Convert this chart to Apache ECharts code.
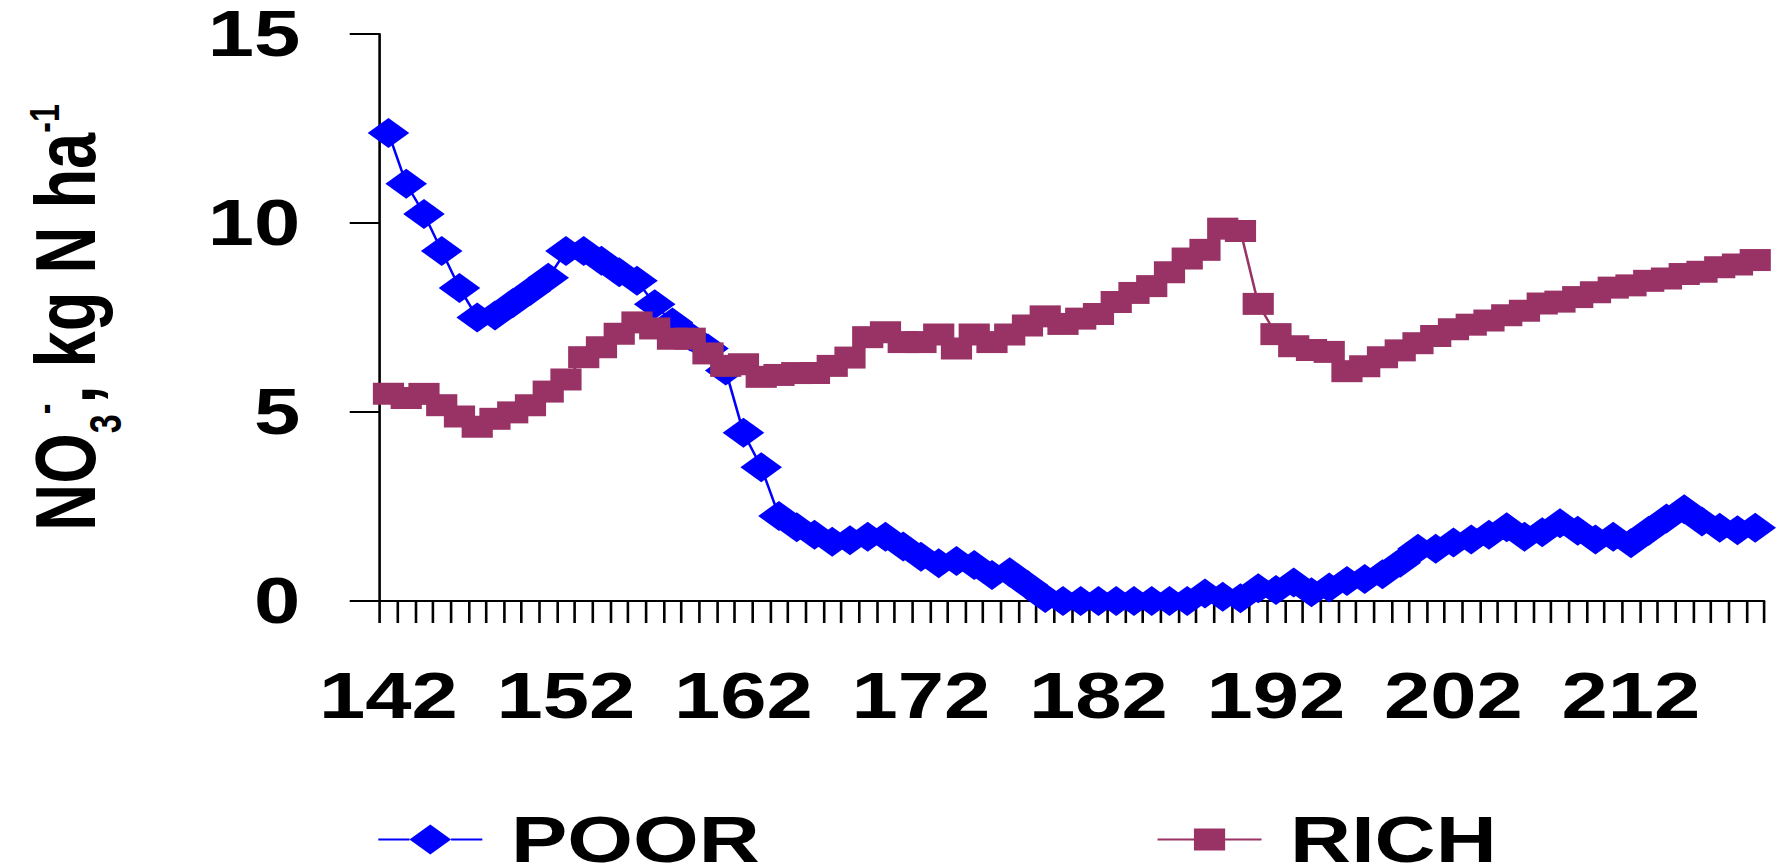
<!DOCTYPE html>
<html>
<head>
<meta charset="utf-8">
<script src="https://cdn.jsdelivr.net/npm/echarts@6/dist/echarts.min.js"></script>
<style>
  html, body { margin: 0; padding: 0; background: #ffffff; overflow: hidden; }
  /* The figure is laid out narrower and widened horizontally, giving the wide lettering and markers of the original figure */
  #chart { width: 1376px; height: 864px; transform: scaleX(1.3); transform-origin: 0 0; }
</style>
</head>
<body>
<div id="chart"></div>
<script>
// Day of year
const days = [
  '142','143','144','145','146','147','148','149','150','151',
  '152','153','154','155','156','157','158','159','160','161',
  '162','163','164','165','166','167','168','169','170','171',
  '172','173','174','175','176','177','178','179','180','181',
  '182','183','184','185','186','187','188','189','190','191',
  '192','193','194','195','196','197','198','199','200','201',
  '202','203','204','205','206','207','208','209','210','211',
  '212','213','214','215','216','217','218','219'
];

// Soil nitrate, kg N/ha
const poor = [
  12.38, 11.04, 10.24, 9.26, 8.28, 7.50, 7.55, 7.88, 8.21, 8.55,
  9.26, 9.26, 9.00, 8.70, 8.47, 7.85, 7.37, 7.00, 6.68, 6.10,
  4.45, 3.54, 2.25, 1.95, 1.75, 1.57, 1.61, 1.70, 1.70, 1.44,
  1.17, 1.00, 1.06, 0.95, 0.69, 0.76, 0.42, 0.08, 0.00, 0.00,
  0.00, 0.00, 0.00, 0.00, 0.00, 0.00, 0.20, 0.11, 0.07, 0.34,
  0.29, 0.49, 0.23, 0.36, 0.53, 0.58, 0.71, 1.01, 1.38, 1.38,
  1.55, 1.63, 1.75, 1.95, 1.70, 1.82, 2.06, 1.86, 1.63, 1.70,
  1.53, 1.86, 2.18, 2.43, 2.10, 1.94, 1.87, 1.94
];

const rich = [
  5.48, 5.37, 5.48, 5.18, 4.88, 4.61, 4.82, 4.99, 5.18, 5.54,
  5.86, 6.45, 6.71, 7.07, 7.37, 7.21, 6.94, 6.94, 6.55, 6.22,
  6.26, 5.93, 5.98, 6.03, 6.03, 6.22, 6.44, 6.98, 7.11, 6.85,
  6.85, 7.05, 6.68, 7.05, 6.85, 7.05, 7.29, 7.53, 7.33, 7.47,
  7.59, 7.91, 8.15, 8.33, 8.70, 9.06, 9.29, 9.85, 9.79, 7.86,
  7.06, 6.74, 6.64, 6.59, 6.08, 6.21, 6.45, 6.63, 6.82, 7.01,
  7.19, 7.31, 7.42, 7.56, 7.68, 7.87, 7.92, 8.04, 8.17, 8.29,
  8.35, 8.47, 8.53, 8.65, 8.71, 8.83, 8.90, 9.02
];

const seriesNames = ['POOR', 'RICH'];
const FONT = '"Liberation Sans", Arial, sans-serif';
const BLUE = '#0000ff';
const PLUM = '#993366';

const chart = echarts.init(document.getElementById('chart'), null, { renderer: 'svg' });

chart.setOption({
  animation: false,
  backgroundColor: '#ffffff',
  grid: { left: 292, right: 19, top: 34, bottom: 263, outerBoundsMode: 'none' },
  legend: {
    left: 291,
    top: 807,
    padding: 0,
    itemWidth: 80,
    itemHeight: 30,
    itemGap: 306,
    itemStyle: { borderWidth: 0 },
    textStyle: {
      fontFamily: FONT, fontWeight: 'bold', fontSize: 65,
      color: '#000', padding: [0, 0, 0, 17]
    },
    data: [
      { name: seriesNames[0], icon: 'path://M0,14L24,14L24,16L0,16Z M24,15L40,0L56,15L40,30Z M56,14L80,14L80,16L56,16Z' },
      { name: seriesNames[1], icon: 'path://M0,10L28,10L28,12L0,12Z M28,0L52,0L52,22L28,22Z M52,10L80,10L80,12L52,12Z' }
    ]
  },
  xAxis: {
    type: 'category',
    data: days,
    boundaryGap: true,
    axisLine: { show: true, onZero: true, lineStyle: { color: '#000', width: 2 } },
    axisTick: { show: true, interval: 0, inside: false, length: 22, lineStyle: { color: '#000', width: 2 } },
    axisLabel: {
      interval: 9, margin: 63,
      fontFamily: FONT, fontWeight: 'bold', fontSize: 64, color: '#000'
    },
    splitLine: { show: false }
  },
  yAxis: {
    type: 'value',
    min: 0, max: 15, interval: 5,
    name: '{a|NO}{sub|3}{sup|-}{a|, kg N ha}{sup|-1}',
    nameLocation: 'middle',
    nameGap: 209,
    nameTextStyle: {
      fontFamily: FONT, fontWeight: 'bold', color: '#000',
      rich: {
        a: { fontFamily: FONT, fontWeight: 'bold', fontSize: 65, lineHeight: 65, verticalAlign: 'top', color: '#000' },
        sub: { fontFamily: FONT, fontWeight: 'bold', fontSize: 34, lineHeight: 34, padding: [46, 0, 0, 0], verticalAlign: 'top', color: '#000' },
        sup: { fontFamily: FONT, fontWeight: 'bold', fontSize: 32, lineHeight: 40, verticalAlign: 'top', color: '#000' }
      }
    },
    axisLine: { show: true, lineStyle: { color: '#000', width: 2 } },
    axisTick: { show: true, inside: false, length: 23, lineStyle: { color: '#000', width: 2 } },
    axisLabel: { margin: 61, lineHeight: 50, fontFamily: FONT, fontWeight: 'bold', fontSize: 64, color: '#000' },
    splitLine: { show: false }
  },
  series: [
    {
      name: seriesNames[0],
      type: 'line',
      data: poor,
      symbol: 'diamond',
      symbolSize: [32, 30],
      showAllSymbol: true,
      clip: false,
      color: BLUE,
      lineStyle: { color: BLUE, width: 2 },
      itemStyle: { color: BLUE, borderWidth: 0 },
      emphasis: { disabled: true }
    },
    {
      name: seriesNames[1],
      type: 'line',
      data: rich,
      symbol: 'rect',
      symbolSize: [24, 22],
      showAllSymbol: true,
      clip: false,
      color: PLUM,
      lineStyle: { color: PLUM, width: 2 },
      itemStyle: { color: PLUM, borderWidth: 0 },
      emphasis: { disabled: true }
    }
  ]
});
</script>
</body>
</html>
